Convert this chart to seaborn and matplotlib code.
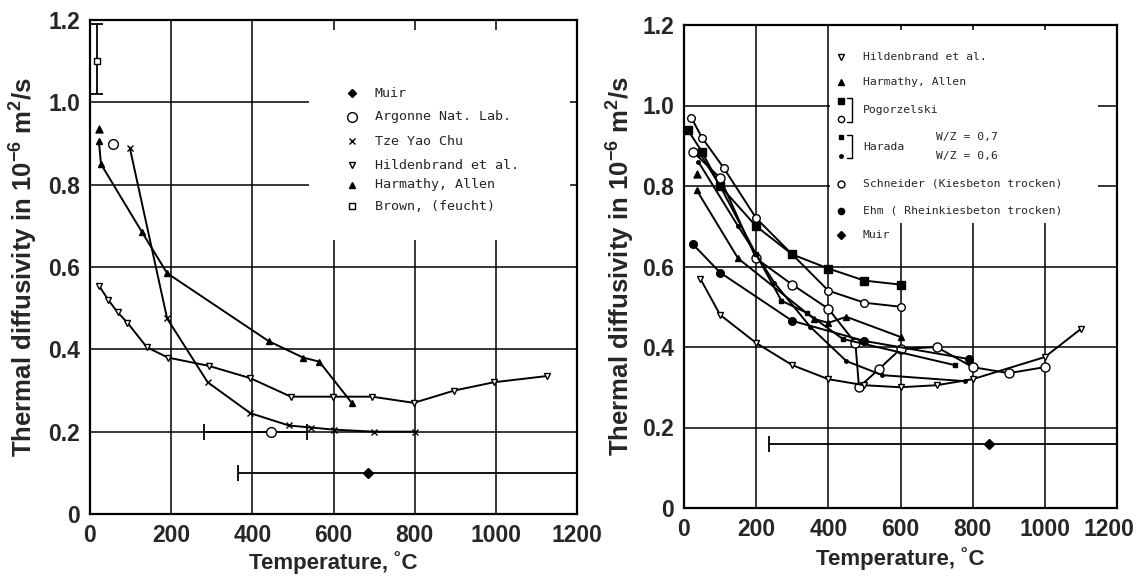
import matplotlib
matplotlib.use('Agg')
import matplotlib.pyplot as plt
import matplotlib.patches as mpatches
import matplotlib.transforms as mtransforms
import seaborn as sns

sns.set_theme(style='white')
plt.rcParams['font.family'] = ['Liberation Sans', 'DejaVu Sans']
plt.rcParams['mathtext.fontset'] = 'custom'
plt.rcParams['mathtext.rm'] = 'Liberation Sans:bold'
plt.rcParams['mathtext.bf'] = 'Liberation Sans:bold'

# ---------------- left panel data ----------------
brown_t, brown_v, brown_lo, brown_hi = [18], [1.10], [1.02], [1.19]
argonne_t = [57, 445]
argonne_v = [0.90, 0.20]
argonne_bar = (280, 535)          # horizontal error bar of the 445 point
muir_l_t, muir_l_v, muir_l_bar = [685], [0.10], (365, 1200)

chu_t = [98, 190, 290, 395, 490, 545, 600, 700, 800]
chu_v = [0.89, 0.475, 0.32, 0.245, 0.215, 0.21, 0.205, 0.20, 0.20]

hild_l_t = [22, 45, 68, 92, 140, 192, 292, 395, 495, 598, 695, 798, 898, 995, 1125]
hild_l_v = [0.555, 0.52, 0.49, 0.465, 0.405, 0.38, 0.36, 0.33, 0.285, 0.285, 0.285, 0.27, 0.30, 0.32, 0.335]

harm_l_t = [22, 27, 128, 190, 440, 525, 565, 645]
harm_l_v = [0.905, 0.85, 0.685, 0.585, 0.42, 0.38, 0.37, 0.27]
harm_l_extra_t, harm_l_extra_v = [22], [0.935]

# ---------------- right panel data ----------------
hild_r_t = [45, 100, 200, 300, 400, 500, 600, 700, 800, 1000, 1100]
hild_r_v = [0.57, 0.48, 0.41, 0.355, 0.32, 0.305, 0.30, 0.305, 0.32, 0.375, 0.445]

harm_r_t = [35, 150, 360, 400, 450, 600]
harm_r_v = [0.79, 0.62, 0.47, 0.46, 0.475, 0.425]
harm_r_extra_t, harm_r_extra_v = [35], [0.83]

pog_sq_t = [10, 50, 100, 200, 300, 400, 500, 600]
pog_sq_v = [0.94, 0.885, 0.80, 0.70, 0.63, 0.595, 0.565, 0.555]
pog_ci_t = [20, 50, 110, 200, 400, 500, 600]
pog_ci_v = [0.97, 0.92, 0.845, 0.72, 0.54, 0.51, 0.50]

harada7_t = [45, 100, 200, 270, 340, 440, 750]
harada7_v = [0.88, 0.80, 0.63, 0.515, 0.485, 0.42, 0.355]
harada6_t = [40, 150, 250, 350, 450, 550, 780]
harada6_v = [0.86, 0.70, 0.56, 0.45, 0.365, 0.33, 0.315]

schn_t = [25, 100, 200, 300, 400, 475, 485, 540, 600, 700, 800, 900, 1000]
schn_v = [0.885, 0.82, 0.62, 0.555, 0.495, 0.41, 0.30, 0.345, 0.395, 0.40, 0.35, 0.335, 0.35]

ehm_t = [25, 100, 300, 500, 790]
ehm_v = [0.655, 0.585, 0.465, 0.415, 0.37]

muir_r_t, muir_r_v, muir_r_bar = [845], [0.16], (235, 1200)

x_ticks = [0, 200, 400, 600, 800, 1000, 1200]
y_ticks = [0, 0.2, 0.4, 0.6, 0.8, 1.0, 1.2]
y_ticklabels = ['0', '0.2', '0.4', '0.6', '0.8', '1.0', '1.2']

KEY_FONT = 'DejaVu Sans Mono'


def curve(ax, t, v, marker, ms=5, mfc='black', lw=1.4):
    sns.lineplot(x=t, y=v, ax=ax, color='black', lw=lw, marker=marker,
                 markersize=ms, markerfacecolor=mfc, markeredgecolor='black',
                 markeredgewidth=1, sort=False, estimator=None, legend=False)


def points(ax, t, v, marker, ms=5, mfc='black'):
    sns.scatterplot(x=t, y=v, ax=ax, marker=marker, s=ms ** 2, color=mfc,
                    edgecolor='black', linewidth=1, legend=False, zorder=4)


def hbar(ax, t, v, bar, marker, ms, mfc):
    ax.errorbar(t, v, xerr=[[t[0] - bar[0]], [bar[1] - t[0]]], fmt=marker,
                ms=ms, mfc=mfc, mec='black', ecolor='black', elinewidth=1.3,
                capsize=6, capthick=1.3, color='black', zorder=4)


def style(ax):
    ax.set_xlim(0, 1200)
    ax.set_ylim(0, 1.2)
    ax.set_xticks(x_ticks)
    ax.set_xticklabels([str(t) for t in x_ticks])
    ax.set_yticks(y_ticks)
    ax.set_yticklabels(y_ticklabels)
    ax.tick_params(length=0, pad=7)
    for lab in ax.get_xticklabels() + ax.get_yticklabels():
        lab.set_fontweight('bold')
        lab.set_fontsize(16.5)
    ax.grid(True, color='black', lw=1.1)
    ax.set_axisbelow(True)
    for s in ax.spines.values():
        s.set_color('black')
        s.set_linewidth(1.6)
    ax.set_xlabel('Temperature, ˚C', fontsize=16, fontweight='bold')
    ax.set_ylabel(r'Thermal diffusivity in 10$^{-6}$ m$^{2}$/s', fontsize=18.5,
                  fontweight='bold')


def key(ax, x, y, marker, ms, mfc, text=None, tx=None, fs=9.6, ty=None):
    ax.plot([x], [y], marker=marker, ms=ms, mfc=mfc, mec='black', color='black',
            transform=ax.transAxes, clip_on=False, zorder=6)
    if text:
        ax.text(tx, y if ty is None else ty, text, transform=ax.transAxes,
                fontsize=fs, family=KEY_FONT, va='center', zorder=6)


def bracket(ax, x, y1, y2):
    ax.plot([x - 0.012, x, x, x - 0.012], [y1, y1, y2, y2], color='black',
            lw=1, transform=ax.transAxes, clip_on=False, zorder=6)


fig = plt.figure(figsize=(11.37, 5.76), dpi=100)
ax1 = fig.add_axes([90 / 1137, 1 - 514 / 576, 487 / 1137, 494 / 576])
ax2 = fig.add_axes([684 / 1137, 1 - 508 / 576, 433 / 1137, 483 / 576])

# ---- left panel ----
style(ax1)
ax1.add_patch(mpatches.Rectangle((0.45, 0.555), 0.535, 0.425, transform=ax1.transAxes,
                                 facecolor='white', edgecolor='none', zorder=1.5))
curve(ax1, harm_l_t, harm_l_v, '^', ms=5)
points(ax1, harm_l_extra_t, harm_l_extra_v, '^', ms=5)
curve(ax1, chu_t, chu_v, 'x', ms=5)
curve(ax1, hild_l_t, hild_l_v, 'v', ms=5, mfc='white')
ax1.errorbar(brown_t, brown_v, yerr=[[brown_v[0] - brown_lo[0]], [brown_hi[0] - brown_v[0]]],
             fmt='s', ms=4, mfc='white', mec='black', ecolor='black', elinewidth=1.3,
             capsize=4, capthick=1.3, zorder=4)
points(ax1, argonne_t[:1], argonne_v[:1], 'o', ms=7, mfc='white')
hbar(ax1, argonne_t[1:], argonne_v[1:], argonne_bar, 'o', 7, 'white')
hbar(ax1, muir_l_t, muir_l_v, muir_l_bar, 'D', 5, 'black')

lx, ltx = 0.538, 0.585
rows_l = [0.852, 0.804, 0.755, 0.706, 0.666, 0.623]
key(ax1, lx, rows_l[0], 'D', 4.5, 'black', 'Muir', ltx)
key(ax1, lx, rows_l[1], 'o', 7, 'white', 'Argonne Nat. Lab.', ltx)
key(ax1, lx, rows_l[2], 'x', 5, 'black', 'Tze Yao Chu', ltx)
key(ax1, lx, rows_l[3], 'v', 4.5, 'white', 'Hildenbrand et al.', ltx)
key(ax1, lx, rows_l[4], '^', 4.5, 'black', 'Harmathy, Allen', ltx)
key(ax1, lx, rows_l[5], 's', 4, 'white', 'Brown, (feucht)', ltx)

# ---- right panel ----
style(ax2)
# pull the last x tick label ("1200") a little left so it stays on the canvas
last = ax2.get_xticklabels()[-1]
last.set_transform(last.get_transform() +
                   mtransforms.ScaledTranslation(-8 / 100, 0, fig.dpi_scale_trans))
ax2.add_patch(mpatches.Rectangle((0.337, 0.59), 0.62, 0.40, transform=ax2.transAxes,
                                 facecolor='white', edgecolor='none', zorder=1.5))
curve(ax2, pog_sq_t, pog_sq_v, 's', ms=5.5)
curve(ax2, pog_ci_t, pog_ci_v, 'o', ms=5.5, mfc='white')
curve(ax2, schn_t, schn_v, 'o', ms=6.5, mfc='white')
curve(ax2, harada7_t, harada7_v, 's', ms=3)
curve(ax2, harada6_t, harada6_v, 'o', ms=2.5)
curve(ax2, harm_r_t, harm_r_v, '^', ms=5)
points(ax2, harm_r_extra_t, harm_r_extra_v, '^', ms=5)
curve(ax2, ehm_t, ehm_v, 'o', ms=5.5)
curve(ax2, hild_r_t, hild_r_v, 'v', ms=5, mfc='white')
hbar(ax2, muir_r_t, muir_r_v, muir_r_bar, 'D', 5, 'black')

rx, rtx, rbx, rfs = 0.363, 0.413, 0.388, 8.2
key(ax2, rx, 0.934, 'v', 4.5, 'white', 'Hildenbrand et al.', rtx, rfs)
key(ax2, rx, 0.882, '^', 4.5, 'black', 'Harmathy, Allen', rtx, rfs)
key(ax2, rx, 0.843, 's', 4.5, 'black')
key(ax2, rx, 0.805, 'o', 4.5, 'white', 'Pogorzelski', rtx, rfs, ty=0.824)
bracket(ax2, rbx, 0.848, 0.800)
key(ax2, rx, 0.768, 's', 3, 'black')
key(ax2, rx, 0.729, 'o', 2.5, 'black', 'Harada', rtx, rfs, ty=0.748)
bracket(ax2, rbx, 0.773, 0.724)
ax2.text(0.582, 0.768, 'W/Z = 0,7', transform=ax2.transAxes, fontsize=rfs,
         family=KEY_FONT, va='center', zorder=6)
ax2.text(0.582, 0.729, 'W/Z = 0,6', transform=ax2.transAxes, fontsize=rfs,
         family=KEY_FONT, va='center', zorder=6)
key(ax2, rx, 0.671, 'o', 5, 'white', 'Schneider (Kiesbeton trocken)', rtx, rfs)
key(ax2, rx, 0.615, 'o', 4.5, 'black', 'Ehm ( Rheinkiesbeton trocken)', rtx, rfs)
key(ax2, rx, 0.565, 'D', 4.5, 'black', 'Muir', rtx, rfs)

for ax, lx_, ly_ in [(ax1, -0.105, -0.075), (ax2, -0.11, -0.08)]:
    ax.yaxis.set_label_coords(lx_, 0.5)
    ax.xaxis.set_label_coords(0.5, ly_)

fig.savefig('out.png', dpi=100, facecolor='white')
